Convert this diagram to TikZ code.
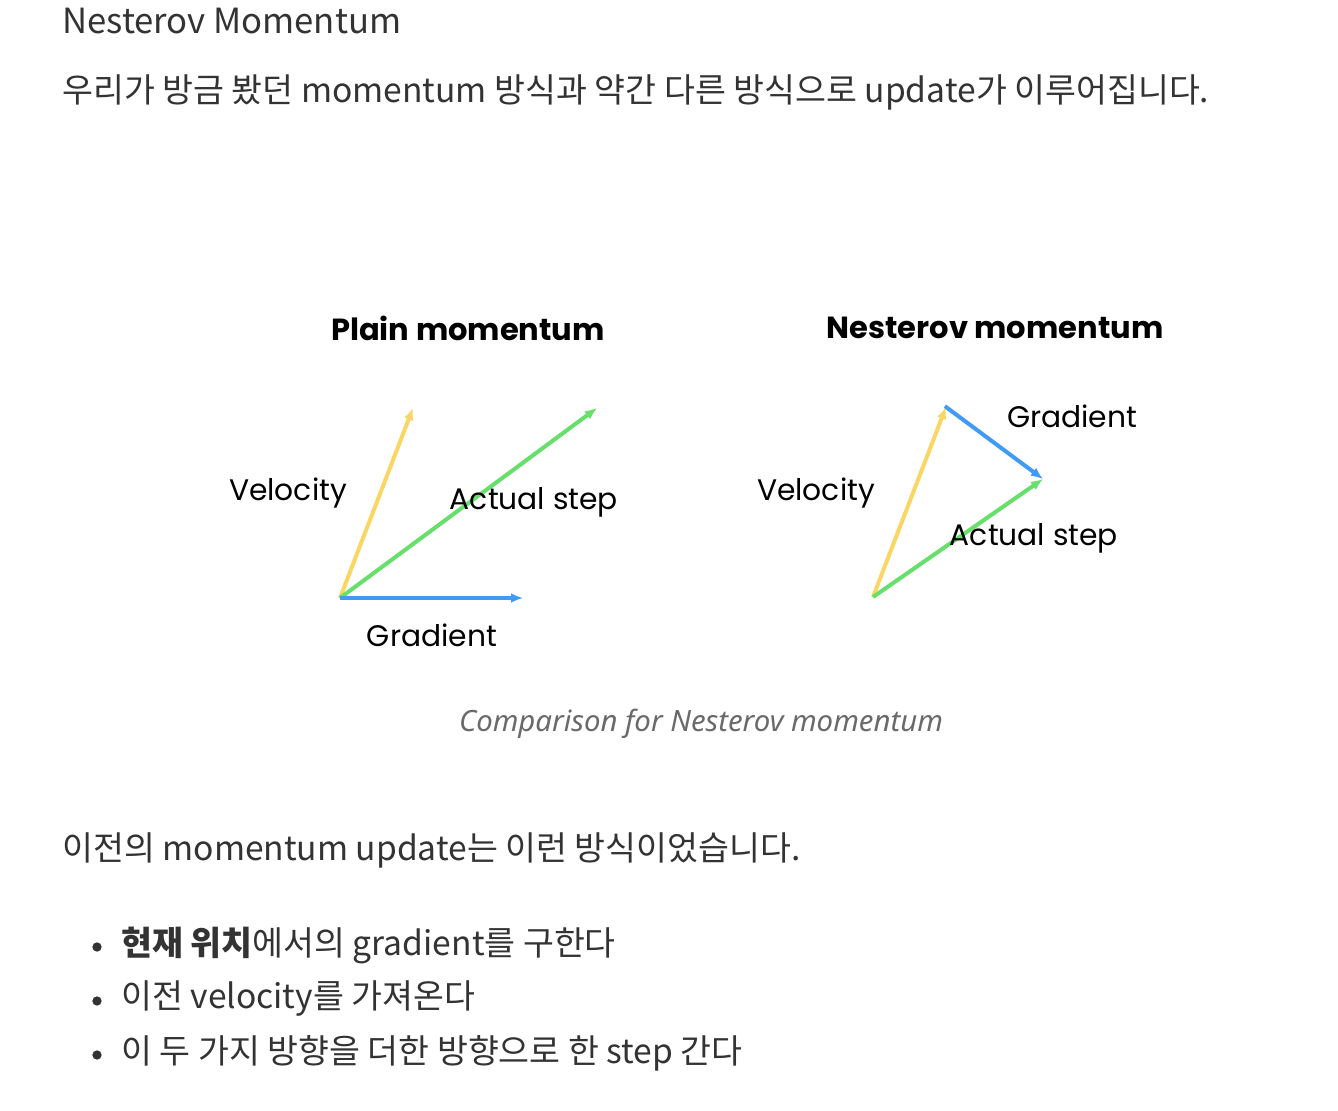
\documentclass[tikz,border=0pt]{standalone}
\usepackage{fontspec}
\setmainfont{Noto Sans CJK KR}
\newfontfamily\figfont{Poppins}
\newfontfamily\capfont{Noto Sans}
\usetikzlibrary{arrows.meta}
\definecolor{velocityc}{HTML}{FAD764}
\definecolor{stepc}{HTML}{66E06A}
\definecolor{gradc}{HTML}{3F9BF5}
\definecolor{textc}{HTML}{333333}
\definecolor{captionc}{HTML}{6A6A6A}
\tikzset{vec/.style={line width=3pt,-{Latex[length=9pt,width=7.5pt]}}}
\tikzset{vec label/.style={font=\figfont\fontsize{22.3}{27}\selectfont,inner sep=0pt,text=black}}
\tikzset{fig title/.style={font=\figfont\bfseries\fontsize{22.9}{28}\selectfont,inner sep=0pt,text=black}}
\tikzset{body text/.style={font=\fontsize{25.2}{30}\selectfont,inner sep=0pt,anchor=west,text=textc}}
\tikzset{bullet dot/.style={circle,fill=textc,inner sep=0pt,minimum size=7pt}}

\begin{document}
\begin{tikzpicture}[x=0.75pt,y=-0.75pt]
    \fill[white] (0,0) rectangle (1338,1110);
    \useasboundingbox (0,0) rectangle (1338,1110);

    % text above the figure
    \node[body text,font=\fontsize{26}{31}\selectfont] (head) at (62,21) {Nesterov Momentum};
    \node[body text] (intro) at (62,92) {우리가 방금 봤던 momentum 방식과 약간 다른 방식으로 update가 이루어집니다.};

    % plain momentum
    \node[fig title] (T1) at (468,328) {Plain momentum};
    \coordinate (P0) at (340,598);
    \coordinate (PV) at (413,408);
    \coordinate (PS) at (597,408);
    \coordinate (PG) at (523,598);
    \draw[vec,velocityc] (P0) -- (PV);
    \draw[vec,stepc] (P0) -- (PS);
    \draw[vec,gradc] (P0) -- (PG);
    \node[vec label] (PVl) at (288,493) {Velocity};
    \node[vec label] (PSl) at (534,502) {Actual step};
    \node[vec label] (PGl) at (432,635) {Gradient};

    % nesterov momentum
    \node[fig title] (T2) at (995,328) {Nesterov momentum};
    \coordinate (N0) at (873,597);
    \coordinate (NV) at (946,407);
    \coordinate (NG) at (1043,479);
    \draw[vec,velocityc] (N0) -- (NV);
    \draw[vec,gradc,shorten <=-1pt] (NV) -- (NG);
    \draw[vec,stepc] (N0) -- (NG);
    \node[vec label] (NVl) at (816,493) {Velocity};
    \node[vec label] (NGl) at (1072,416) {Gradient};
    \node[vec label] (NSl) at (1034,538) {Actual step};

    \node[font=\capfont\itshape\fontsize{22}{26}\selectfont,text=captionc,inner sep=0pt] (cap) at (701,724) {Comparison for Nesterov momentum};

    % text below the figure
    \node[body text] (prev) at (62,850) {이전의 momentum update는 이런 방식이었습니다.};
    \node[bullet dot] (b1) at (97,947) {};
    \node[bullet dot] (b2) at (97,1001) {};
    \node[bullet dot] (b3) at (97,1055) {};
    \node[body text] (i1) at (121,945) {\textbf{현재 위치}에서의 gradient를 구한다};
    \node[body text] (i2) at (121,999) {이전 velocity를 가져온다};
    \node[body text] (i3) at (121,1053) {이 두 가지 방향을 더한 방향으로 한 step 간다};
\end{tikzpicture}
\end{document}
